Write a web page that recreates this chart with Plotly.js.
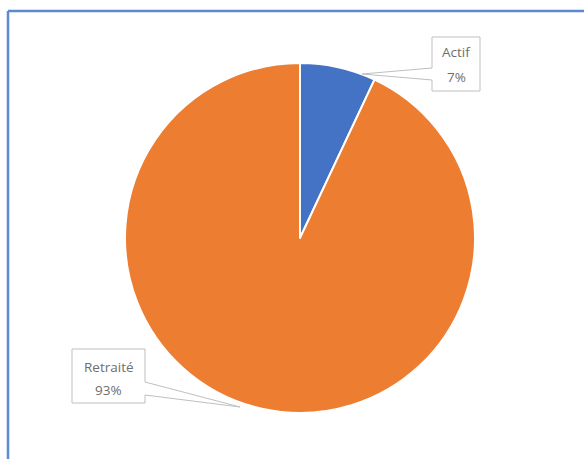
<!DOCTYPE html>
<html>
<head>
<meta charset="utf-8">
<script src="https://cdn.plot.ly/plotly-3.0.1.min.js"></script>
<style>
  html, body { margin: 0; padding: 0; background: #ffffff; }
  #chart { width: 584px; height: 459px; }
</style>
</head>
<body>
<div id="chart"></div>
<script>
// ---- data ----
const categories = ["Actif", "Retraité"];
const values = [7, 93];
const sliceColors = ["#4472C4", "#ED7D31"];

// ---- layout helpers (pixel -> paper, margins are 0) ----
const W = 584, H = 459;
const px = x => x / W;
const py = y => 1 - y / H;
function pathFrom(points) {
  return "M " + points.map(p => px(p[0]).toFixed(5) + "," + py(p[1]).toFixed(5)).join(" L ") + " Z";
}

const total = values.reduce((a, b) => a + b, 0);
const pctText = values.map(v => Math.round(v / total * 100) + "%");

// pie geometry
const cx = 300, cy = 238, r = 175;

const calloutStyle = { type: "path", xref: "paper", yref: "paper",
  fillcolor: "#ffffff", line: { color: "#BFBFBF", width: 1 }, layer: "above" };

const shapes = [
  // chart outer border (Excel-like)
  { type: "line", xref: "paper", yref: "paper", x0: px(8), y0: py(11), x1: px(600), y1: py(11),
    line: { color: "#5B8AD0", width: 2.5 } },
  { type: "line", xref: "paper", yref: "paper", x0: px(8), y0: py(11), x1: px(8), y1: py(480),
    line: { color: "#5B8AD0", width: 2.5 } },
  // callout for Actif
  Object.assign({}, calloutStyle, { path: pathFrom([[432,37],[480,37],[480,91],[432,91],[432,80],[362,74],[432,68]]) }),
  // callout for Retraité
  Object.assign({}, calloutStyle, { path: pathFrom([[72,349],[145,349],[145,382],[240,407],[145,395],[145,403],[72,403]]) })
];

// label line positions (name line, percent line) in pixels
const labelPos = [
  { x: 456, yName: 52, yPct: 77 },
  { x: 108.5, yName: 367, yPct: 390 }
];
const labelFont = { family: "Open Sans, Noto Sans, sans-serif", size: 13.5, color: "#6E6E6E" };
const annotations = [];
categories.forEach((c, i) => {
  annotations.push({
    xref: "paper", yref: "paper", x: px(labelPos[i].x), y: py(labelPos[i].yName),
    xanchor: "center", yanchor: "middle", text: c, showarrow: false, font: labelFont
  });
  annotations.push({
    xref: "paper", yref: "paper", x: px(labelPos[i].x), y: py(labelPos[i].yPct),
    xanchor: "center", yanchor: "middle", text: pctText[i], showarrow: false, font: labelFont
  });
});

const data = [{
  type: "pie",
  labels: categories,
  values: values,
  sort: false,
  direction: "clockwise",
  rotation: 0,
  textinfo: "none",
  hoverinfo: "none",
  showlegend: false,
  marker: { colors: sliceColors, line: { color: "#ffffff", width: 2 } },
  domain: { x: [px(cx - r), px(cx + r)], y: [py(cy + r), py(cy - r)] }
}];

const layout = {
  width: W, height: H,
  margin: { l: 0, r: 0, t: 0, b: 0 },
  paper_bgcolor: "#ffffff",
  plot_bgcolor: "#ffffff",
  showlegend: false,
  shapes: shapes,
  annotations: annotations
};

Plotly.newPlot("chart", data, layout, { displayModeBar: false, staticPlot: true });
</script>
</body>
</html>
